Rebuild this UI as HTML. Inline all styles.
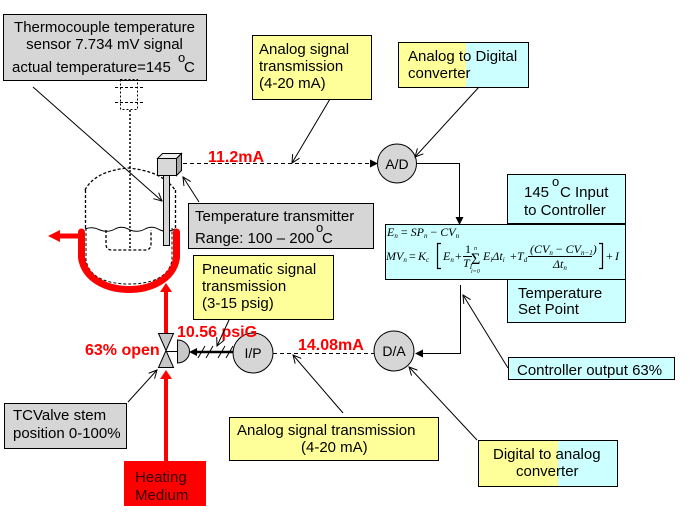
<!DOCTYPE html>
<html><head><meta charset="utf-8">
<style>
html,body{margin:0;padding:0;background:#fff;}
svg{display:block;}
text{font-family:"Liberation Sans",Arial,sans-serif;font-size:15px;fill:#000;}
.r{fill:#f00;font-weight:bold;font-size:16px;}
.eq{font-family:"Liberation Serif","Times New Roman",serif;font-style:italic;font-size:12px;}
.up{font-family:"Liberation Serif","Times New Roman",serif;font-size:12px;font-style:normal;}
</style></head><body>
<svg width="691" height="525" viewBox="0 0 691 525" xmlns="http://www.w3.org/2000/svg">
<defs>
<marker id="oa" markerWidth="10" markerHeight="10" refX="9" refY="5" orient="auto" markerUnits="userSpaceOnUse">
<path d="M1,1 L9,5 L1,9" fill="none" stroke="#000" stroke-width="1"/>
</marker>
</defs>
<rect width="691" height="525" fill="#fff"/>

<!-- Thermocouple box -->
<rect x="3.5" y="14.5" width="203" height="66" fill="#d6d6d6" stroke="#000"/>
<text x="104.5" y="32" text-anchor="middle">Thermocouple temperature</text>
<text x="104.5" y="49" text-anchor="middle">sensor 7.734 mV signal</text>
<text x="12" y="72">actual temperature=145</text>
<text x="178" y="62" style="font-size:13px">o</text>
<text x="184" y="72">C</text>

<!-- thermocouple top assembly -->
<rect x="120.5" y="79.5" width="17" height="30" fill="none" stroke="#000" stroke-dasharray="2,2"/>
<line x1="115" y1="87.5" x2="143" y2="87.5" stroke="#000" stroke-dasharray="3,2"/>
<line x1="115" y1="102.5" x2="143" y2="102.5" stroke="#000" stroke-dasharray="3,2"/>
<line x1="130" y1="110" x2="130" y2="250" stroke="#000" stroke-width="1.5" stroke-dasharray="2,2"/>

<!-- vessel -->
<path d="M85,190 Q95,171 128,168 Q162,171 175,190" fill="none" stroke="#000" stroke-width="1.3" stroke-dasharray="3,2"/>
<line x1="85.5" y1="190" x2="85.5" y2="228" stroke="#000" stroke-width="1.3" stroke-dasharray="3,2"/>
<line x1="175.5" y1="190" x2="175.5" y2="228" stroke="#000" stroke-width="1.3" stroke-dasharray="3,2"/>
<path d="M106,230 L106,244 Q106,250 112,250 L145,250 Q151,250 151,244 L151,230" fill="none" stroke="#000" stroke-width="1.3" stroke-dasharray="3,2"/>
<path d="M85,229 Q92,226 100,230 Q108,233 115,229 Q122,225 130,230 Q138,233 145,229 Q152,225 160,230 Q167,233 175,229" fill="none" stroke="#000" stroke-width="1"/>
<path d="M86,228 L86,260 C89,278 108,284 129,284 C150,284 169,278 172,260 L172,228" fill="none" stroke="#000" stroke-dasharray="3,2"/>

<!-- red jacket -->
<path d="M81.5,232 L81.5,258 C85,280 108,289.5 129,289.5 C150,289.5 173,280 176.5,258 L176.5,232" fill="none" stroke="#f00" stroke-width="7" stroke-linecap="round"/>
<line x1="78" y1="236" x2="59" y2="236" stroke="#f00" stroke-width="5"/>
<polygon points="48,236 60,230 60,242" fill="#f00"/>

<!-- transmitter -->
<rect x="163.5" y="175.5" width="6" height="70" fill="#d6d6d6" stroke="#000"/>
<polygon points="157.5,158.5 162.5,153.5 181.5,153.5 176.5,158.5" fill="#eee" stroke="#000"/>
<polygon points="176.5,158.5 181.5,153.5 181.5,170.5 176.5,175.5" fill="#a8a8a8" stroke="#000"/>
<rect x="157.5" y="158.5" width="19" height="17" fill="#d8d8d8" stroke="#000"/>

<!-- red feed lines -->
<rect x="164" y="290" width="4" height="44" fill="#f00"/>
<polygon points="166,283 160,292 172,292" fill="#f00"/>
<rect x="164" y="378" width="4" height="84" fill="#f00"/>
<polygon points="166,370 160,379 172,379" fill="#f00"/>

<!-- valve -->
<polygon points="158.5,333.5 173.5,333.5 166,350.5" fill="#c8c8c8" stroke="#000"/>
<polygon points="158.5,367.5 173.5,367.5 166,350.5" fill="#c8c8c8" stroke="#000"/>
<line x1="166" y1="351.5" x2="177" y2="351.5" stroke="#000"/>
<path d="M177.5,340 A12,11.5 0 0 1 177.5,363 Z" fill="#c8c8c8" stroke="#000"/>

<!-- pneumatic line -->
<line x1="233" y1="352" x2="196" y2="352" stroke="#000" stroke-width="2.5"/>
<polygon points="189,352 197,348 197,356" fill="#000"/>
<line x1="198" y1="358" x2="205" y2="346" stroke="#000"/>
<line x1="206" y1="358" x2="213" y2="346" stroke="#000"/>
<line x1="218" y1="358" x2="225" y2="346" stroke="#000"/>
<line x1="226" y1="358" x2="233" y2="346" stroke="#000"/>

<!-- signal lines -->
<line x1="183" y1="163.5" x2="371" y2="163.5" stroke="#000" stroke-dasharray="4,3"/>
<polygon points="378,163.5 370,159.5 370,167.5" fill="#000"/>
<polyline points="417,163.5 459.5,163.5 459.5,218" fill="none" stroke="#000"/>
<polygon points="459.5,225 455.5,217 463.5,217" fill="#000"/>
<polyline points="460.5,285 460.5,353.5 422,353.5" fill="none" stroke="#000"/>
<polygon points="415,353.5 423,349.5 423,357.5" fill="#000"/>
<line x1="273" y1="353.5" x2="374" y2="353.5" stroke="#000" stroke-dasharray="4,3"/>

<!-- circles -->
<circle cx="397" cy="163.5" r="19.5" fill="#d6d6d6" stroke="#000"/>
<text x="397" y="169" text-anchor="middle" style="font-size:14px">A/D</text>
<circle cx="253" cy="353" r="20" fill="#d6d6d6" stroke="#000"/>
<text x="253" y="358" text-anchor="middle" style="font-size:14px">I/P</text>
<circle cx="394" cy="351" r="20" fill="#d6d6d6" stroke="#000"/>
<text x="394" y="356" text-anchor="middle" style="font-size:14px">D/A</text>

<!-- Analog top box -->
<rect x="252.5" y="35.5" width="119" height="64" fill="#ffff99" stroke="#000"/>
<text x="259" y="54">Analog signal</text>
<text x="259" y="71">transmission</text>
<text x="259" y="88">(4-20 mA)</text>

<!-- A/D box -->
<rect x="398.5" y="42.5" width="68" height="45" fill="#ffff99"/>
<rect x="466" y="42.5" width="62.5" height="45" fill="#ccffff"/>
<rect x="398.5" y="42.5" width="130" height="45" fill="none" stroke="#000"/>
<text x="408" y="61">Analog to Digital</text>
<text x="408" y="78">converter</text>

<!-- Temperature transmitter box -->
<rect x="188.5" y="203.5" width="185" height="45" fill="#d6d6d6" stroke="#000"/>
<text x="195" y="221">Temperature transmitter</text>
<text x="195" y="243">Range: 100 – 200</text>
<text x="316" y="232" style="font-size:13px">o</text>
<text x="322" y="243">C</text>

<!-- Pneumatic box -->
<rect x="193.5" y="255.5" width="140" height="64" fill="#ffff99" stroke="#000"/>
<text x="202" y="274">Pneumatic signal</text>
<text x="202" y="291">transmission</text>
<text x="202" y="308">(3-15 psig)</text>

<!-- Equation box -->
<rect x="385.5" y="224.5" width="240" height="55" fill="#ccffff" stroke="#000"/>
<text class="eq" x="387" y="236">E<tspan style="font-size:7px" dy="2">n</tspan><tspan class="up" dy="-2"> = </tspan>SP<tspan style="font-size:7px" dy="2">n</tspan><tspan class="up" dy="-2"> − </tspan>CV<tspan style="font-size:7px" dy="2">n</tspan></text>
<text class="eq" x="386" y="260">MV<tspan style="font-size:7px" dy="2">n</tspan></text>
<text class="up" x="409" y="260">=</text>
<text class="eq" x="418" y="260">K<tspan style="font-size:7px" dy="2">c</tspan></text>
<path d="M441,243.5 L437.5,243.5 L437.5,268.5 L441,268.5" fill="none" stroke="#000" stroke-width="1.2"/>
<text class="eq" x="443" y="260">E<tspan style="font-size:7px" dy="2">n</tspan></text>
<text class="up" x="455" y="260">+</text>
<text class="up" x="465" y="253">1</text>
<line x1="463" y1="256.5" x2="472" y2="256.5" stroke="#000"/>
<text class="eq" x="463" y="267">T<tspan style="font-size:7px" dy="2">I</tspan></text>
<text class="up" x="471" y="264" style="font-size:16px">Σ</text>
<text class="eq" x="474" y="250" style="font-size:6px">n</text>
<text class="eq" x="471" y="273" style="font-size:6px">i=0</text>
<text class="eq" x="483" y="260">E<tspan style="font-size:7px" dy="2">i</tspan><tspan dy="-2">Δt</tspan><tspan style="font-size:7px" dy="2">i</tspan></text>
<text class="up" x="510" y="260">+</text>
<text class="eq" x="517" y="260">T<tspan style="font-size:7px" dy="2">d</tspan></text>
<text class="eq" x="530" y="253">(CV<tspan style="font-size:7px" dy="2">n</tspan><tspan class="up" dy="-2"> − </tspan>CV<tspan style="font-size:7px" dy="2">n−1</tspan><tspan dy="-2">)</tspan></text>
<line x1="528" y1="256.5" x2="592" y2="256.5" stroke="#000"/>
<text class="eq" x="553" y="268">Δt<tspan style="font-size:7px" dy="2">n</tspan></text>
<path d="M599,243.5 L602.5,243.5 L602.5,268.5 L599,268.5" fill="none" stroke="#000" stroke-width="1.2"/>
<text class="up" x="606" y="260">+</text>
<text class="eq" x="615" y="260">I</text>

<!-- 145 input box -->
<rect x="507.5" y="174.5" width="118" height="49" fill="#ccffff" stroke="#000"/>
<text x="524" y="197">145</text>
<text x="552" y="186" style="font-size:13px">o</text>
<text x="560" y="197">C Input</text>
<text x="524" y="215">to Controller</text>

<!-- Set point box -->
<rect x="507.5" y="279.5" width="118" height="43" fill="#ccffff" stroke="#000"/>
<text x="518" y="298">Temperature</text>
<text x="518" y="314">Set Point</text>

<!-- Controller output box -->
<rect x="508.5" y="357.5" width="166" height="22" fill="#ccffff" stroke="#000"/>
<text x="517" y="375">Controller output 63%</text>

<!-- Bottom analog box -->
<rect x="229.5" y="417.5" width="209" height="43" fill="#ffff99" stroke="#000"/>
<text x="237" y="435">Analog signal transmission</text>
<text x="301" y="452">(4-20 mA)</text>

<!-- D/A box -->
<rect x="478.5" y="440.5" width="80" height="46" fill="#ffff99"/>
<rect x="558" y="440.5" width="59.5" height="46" fill="#ccffff"/>
<rect x="478.5" y="440.5" width="139" height="46" fill="none" stroke="#000"/>
<text x="493" y="459">Digital to analog</text>
<text x="516" y="476">converter</text>

<!-- TCValve box -->
<rect x="4.5" y="403.5" width="122" height="45" fill="#d6d6d6" stroke="#000"/>
<text x="13" y="420">TCValve stem</text>
<text x="13" y="438">position 0-100%</text>

<!-- Heating medium -->
<rect x="124" y="461" width="82" height="45" fill="#f00"/>
<text x="135" y="482" style="fill:#300">Heating</text>
<text x="135" y="500" style="fill:#300">Medium</text>

<!-- red labels -->
<text class="r" x="208" y="162">11.2mA</text>
<text class="r" x="177" y="337">10.56 psiG</text>
<text class="r" x="85" y="355">63% open</text>
<text class="r" x="298" y="350">14.08mA</text>

<!-- callouts -->
<g stroke="#000" stroke-width="1" fill="none" marker-end="url(#oa)">
<line x1="33" y1="87" x2="162" y2="201"/>
<line x1="199" y1="202" x2="183" y2="177"/>
<line x1="330" y1="99" x2="292" y2="163"/>
<line x1="479" y1="87" x2="415" y2="157"/>
<line x1="229" y1="320" x2="217" y2="346"/>
<line x1="508" y1="368" x2="463" y2="295"/>
<line x1="343" y1="413" x2="293" y2="355"/>
<line x1="477" y1="440" x2="409" y2="367"/>
<line x1="128" y1="402" x2="157" y2="370"/>
</g>
</svg>
</body></html>
